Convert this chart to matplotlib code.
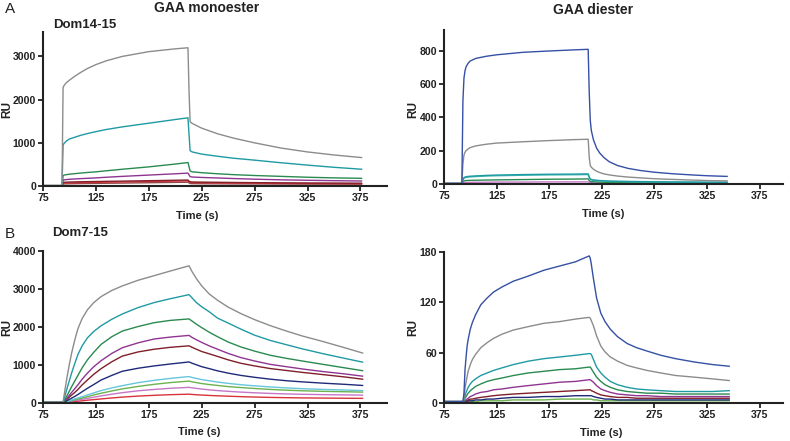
import numpy as np
import matplotlib
matplotlib.use('Agg')
import matplotlib.pyplot as plt

plt.rcParams['font.family'] = ['Liberation Sans', 'DejaVu Sans']
narrow = ['Liberation Sans Narrow', 'Liberation Sans', 'DejaVu Sans']

# ---------------- panel A, monoester (Dom14-15) ----------------
t_a = [75, 93, 94, 95, 97, 100, 105, 110, 117, 125, 135, 150, 175, 200, 212, 213, 214, 216, 225, 240, 255, 275, 300, 325, 350, 376]
a_gray   = [20, 20, 2280, 2330, 2390, 2450, 2540, 2620, 2720, 2810, 2900, 3000, 3110, 3175, 3200, 2200, 1490, 1450, 1340, 1210, 1110, 1000, 880, 790, 720, 660]
a_teal   = [10, 10, 950, 990, 1040, 1090, 1130, 1170, 1215, 1260, 1310, 1370, 1455, 1540, 1580, 1200, 820, 790, 740, 690, 645, 600, 540, 485, 435, 390]
a_green  = [5, 5, 240, 255, 265, 275, 288, 300, 315, 330, 355, 390, 445, 510, 545, 450, 350, 330, 310, 285, 265, 245, 225, 205, 190, 180]
a_purple = [5, 5, 140, 145, 150, 158, 165, 172, 180, 190, 205, 225, 255, 285, 300, 260, 220, 210, 200, 188, 175, 160, 145, 135, 125, 118]
a_maroon = [5, 5, 85, 88, 90, 94, 97, 100, 103, 106, 110, 115, 125, 135, 140, 115, 100, 95, 92, 88, 84, 80, 75, 72, 70, 68]
a_red    = [5, 5, 70, 71, 72, 74, 77, 80, 83, 86, 90, 95, 105, 115, 120, 100, 85, 80, 78, 74, 71, 68, 64, 60, 58, 55]
a_brown  = [5, 5, 50, 51, 52, 54, 56, 58, 60, 62, 66, 70, 78, 86, 90, 75, 60, 57, 55, 53, 51, 50, 48, 46, 45, 44]

# ---------------- panel A, diester ----------------
t_b = [75, 92, 93, 94, 95, 96, 98, 100, 105, 115, 125, 150, 175, 200, 212, 213, 214, 215, 217, 220, 223, 227, 232, 240, 250, 262, 275, 292, 310, 325, 344]
b_blue  = [3, 3, 500, 636, 680, 703, 725, 738, 753, 766, 775, 790, 798, 805, 808, 550, 380, 320, 265, 215, 185, 158, 133, 110, 93, 80, 70, 61, 54, 49, 45]
b_gray  = [3, 3, 120, 174, 190, 200, 210, 218, 228, 238, 245, 253, 260, 266, 268, 160, 110, 100, 88, 76, 68, 60, 54, 47, 41, 36, 31, 27, 23, 20, 18]
b_teal  = [2, 2, 25, 38, 41, 43, 45, 46, 48, 51, 53, 56, 58, 59, 60, 42, 30, 27, 24, 22, 20, 19, 17, 16, 15, 14, 13, 12, 11, 10, 10]
b_cyan  = [2, 2, 22, 34, 37, 39, 41, 42, 44, 47, 49, 52, 54, 55, 56, 39, 27, 24, 21, 19, 18, 17, 15, 14, 13, 12, 11, 10, 10, 9, 9]
b_green = [2, 2, 12, 18, 19, 20, 21, 21, 22, 23, 24, 26, 28, 29, 30, 20, 15, 14, 13, 12, 11, 10, 9, 9, 8, 8, 7, 7, 7, 6, 6]
b_pink  = [2, 2, 6, 8, 8, 9, 9, 9, 10, 10, 11, 11, 12, 12, 12, 9, 7, 7, 6, 6, 6, 5, 5, 5, 5, 5, 5, 5, 5, 5, 5]

# ---------------- panel B, monoester (Dom7-15) ----------------
t_c = [75, 93, 94, 95, 96, 98, 100, 102, 105, 108, 112, 117, 123, 130, 140, 150, 165, 180, 195, 213,
       216, 220, 225, 232, 240, 250, 262, 275, 290, 305, 320, 340, 360, 377]
c_gray   = [20, 20, 20, 200, 380, 720, 1020, 1300, 1650, 1950, 2220, 2450, 2640, 2800, 2960, 3080, 3230, 3350, 3470, 3610,
            3450, 3270, 3080, 2870, 2700, 2520, 2350, 2190, 2030, 1890, 1760, 1610, 1450, 1310]
c_teal   = [18, 18, 15, 100, 200, 400, 590, 780, 1030, 1270, 1500, 1710, 1880, 2030, 2200, 2340, 2510, 2640, 2740, 2850,
            2760, 2640, 2530, 2400, 2230, 2100, 1940, 1780, 1640, 1530, 1420, 1290, 1170, 1070]
c_green  = [16, 16, 10, 50, 100, 200, 310, 420, 570, 720, 920, 1130, 1330, 1540, 1740, 1890, 2010, 2110, 2170, 2210,
            2150, 2070, 1980, 1860, 1740, 1600, 1470, 1360, 1250, 1170, 1100, 1010, 920, 845]
c_purple = [15, 15, 10, 35, 65, 130, 200, 270, 370, 470, 620, 780, 950, 1110, 1300, 1450, 1580, 1680, 1730, 1775,
            1720, 1660, 1590, 1500, 1410, 1300, 1190, 1100, 1010, 950, 890, 820, 760, 700]
c_maroon = [14, 14, 10, 25, 50, 100, 150, 200, 270, 350, 470, 600, 750, 900, 1080, 1230, 1340, 1410, 1460, 1500,
            1460, 1410, 1350, 1290, 1220, 1130, 1040, 970, 900, 850, 800, 740, 680, 620]
c_navy   = [13, 13, 10, 18, 30, 60, 90, 120, 165, 215, 290, 380, 480, 600, 720, 830, 910, 970, 1020, 1075,
            1040, 1000, 950, 900, 840, 780, 720, 670, 620, 580, 550, 515, 485, 455]
c_cyan   = [12, 12, 8, 12, 18, 35, 55, 72, 100, 125, 160, 205, 260, 320, 390, 450, 530, 590, 640, 690,
            665, 640, 610, 580, 545, 510, 475, 445, 415, 390, 370, 350, 335, 320]
c_lgreen = [11, 11, 6, 10, 14, 28, 42, 56, 78, 98, 125, 160, 205, 250, 310, 365, 430, 485, 530, 570,
            550, 530, 505, 480, 455, 425, 400, 375, 350, 330, 315, 300, 290, 280]
c_pink   = [10, 10, 5, 8, 10, 20, 30, 40, 55, 70, 90, 115, 145, 180, 225, 265, 315, 350, 380, 405,
            392, 378, 360, 340, 320, 300, 280, 262, 245, 232, 222, 213, 206, 200]
c_red    = [10, 10, 4, 5, 6, 12, 18, 24, 32, 40, 52, 66, 82, 100, 125, 148, 175, 195, 212, 225,
            218, 210, 202, 192, 182, 172, 160, 150, 140, 133, 127, 122, 118, 115]

# ---------------- panel B, diester ----------------
t_d = [75, 93, 94, 95, 96, 97, 98, 100, 102, 105, 110, 116, 122, 130, 141, 155, 170, 185, 200, 213,
       214, 215, 217, 220, 224, 228, 233, 240, 249, 258, 268, 281, 295, 313, 330, 346]
d_blue   = [2, 2, 12, 40, 55, 68, 76, 88, 96, 105, 117, 125, 132, 138, 145, 151, 158, 163, 168, 175,
            172, 165, 148, 125, 107, 97, 88, 79, 71, 66, 62, 57, 53, 49, 46, 44]
d_gray   = [2, 2, 6, 18, 25, 32, 38, 46, 52, 58, 66, 72, 77, 82, 87, 91, 95, 97, 100, 102,
            101, 98, 92, 80, 68, 61, 55, 50, 45, 42, 39, 36, 33, 31, 29, 27]
d_teal   = [2, 2, 4, 9, 13, 16, 19, 23, 26, 29, 33, 36, 39, 42, 46, 50, 53, 55, 57, 59,
            59, 58, 52, 43, 36, 31, 26, 22, 19, 17, 16, 15, 14, 14, 14, 15]
d_green  = [2, 2, 3, 6, 8, 10, 12, 15, 17, 20, 23, 26, 28, 30, 33, 36, 38, 40, 41, 43,
            43, 41, 37, 31, 26, 22, 19, 16, 14, 13, 12, 12, 11, 11, 11, 11]
d_purple = [2, 2, 2, 3, 4, 5, 6, 8, 9, 11, 13, 14, 16, 17, 19, 21, 23, 25, 26, 28,
            28, 27, 25, 21, 17, 15, 13, 11, 10, 9, 9, 8, 8, 8, 8, 8]
d_maroon = [2, 2, 2, 2, 3, 3, 4, 5, 5, 6, 7, 8, 9, 10, 11, 12, 13, 14, 15, 16,
            16, 15, 14, 12, 10, 9, 8, 7, 7, 6, 6, 6, 6, 6, 6, 6]
d_navy   = [2, 2, 2, 2, 2, 2, 3, 3, 3, 4, 4, 5, 5, 6, 7, 7, 8, 8, 9, 9,
            9, 9, 8, 7, 6, 5, 5, 4, 4, 4, 4, 4, 4, 4, 4, 4]
d_lgreen = [2, 2, 1, 1, 1, 2, 2, 2, 2, 2, 3, 3, 3, 3, 4, 4, 4, 5, 5, 5,
            5, 5, 4, 4, 3, 3, 3, 3, 3, 3, 3, 3, 3, 3, 3, 3]

x_ticks = [75, 125, 175, 225, 275, 325, 375]

col = {
    'gray': '#8c8c8c', 'teal': '#1f9aa3', 'green': '#2a8a50', 'purple': '#8e3592',
    'maroon': '#7e1f2a', 'red': '#d8333a', 'brown': '#8a4a4a', 'blue': '#3550a5',
    'navy': '#1f2a78', 'cyan': '#66c6dc', 'lgreen': '#6cb24e', 'pink': '#c676c6',
    'cyan2': '#3fb7b0',
}

fig = plt.figure(figsize=(7.9, 4.41), dpi=100)

ax1 = fig.add_axes([0.0544, 0.578, 0.4354, 0.349])
ax2 = fig.add_axes([0.562, 0.583, 0.429, 0.349])
ax3 = fig.add_axes([0.0544, 0.0868, 0.4354, 0.344])
ax4 = fig.add_axes([0.562, 0.0855, 0.429, 0.3438])

lw = 1.0
for y, c in [(a_brown, 'brown'), (a_red, 'red'), (a_maroon, 'maroon'), (a_purple, 'purple'),
             (a_green, 'green'), (a_teal, 'teal'), (a_gray, 'gray')]:
    ax1.plot(t_a, y, color=col[c], lw=lw)
for y, c in [(b_pink, 'pink'), (b_green, 'green'), (b_cyan, 'cyan2'), (b_teal, 'teal'),
             (b_gray, 'gray'), (b_blue, 'blue')]:
    ax2.plot(t_b, y, color=col[c], lw=lw)
for y, c in [(c_red, 'red'), (c_pink, 'pink'), (c_lgreen, 'lgreen'), (c_cyan, 'cyan'),
             (c_navy, 'navy'), (c_maroon, 'maroon'), (c_purple, 'purple'), (c_green, 'green'),
             (c_teal, 'teal'), (c_gray, 'gray')]:
    ax3.plot(t_c, y, color=col[c], lw=lw)
for y, c in [(d_lgreen, 'lgreen'), (d_navy, 'navy'), (d_maroon, 'maroon'), (d_purple, 'purple'),
             (d_green, 'green'), (d_teal, 'teal'), (d_gray, 'gray'), (d_blue, 'blue')]:
    ax4.plot(t_d, y, color=col[c], lw=lw)

ax1.set_ylim(0, 3560)
ax1.set_yticks([0, 1000, 2000, 3000])
ax2.set_ylim(0, 924)
ax2.set_yticks([0, 200, 400, 600, 800])
ax3.set_ylim(0, 4000)
ax3.set_yticks([0, 1000, 2000, 3000, 4000])
ax4.set_ylim(0, 180)
ax4.set_yticks([0, 60, 120, 180])

xl_pos = {ax1: 0.448, ax2: 0.469, ax3: 0.453, ax4: 0.463}
for ax in [ax1, ax2, ax3, ax4]:
    ax.set_xlim(75, 400 if ax in (ax1, ax3) else 397)
    ax.set_xticks(x_ticks)
    for s in ['top', 'right']:
        ax.spines[s].set_visible(False)
    for s in ['left', 'bottom']:
        ax.spines[s].set_linewidth(1.5)
        ax.spines[s].set_color('#222222')
    ax.tick_params(direction='out', length=3.5, width=1.3, pad=1.5, colors='#222222')
    for lab in ax.get_xticklabels() + ax.get_yticklabels():
        lab.set_fontweight('bold')
        lab.set_family(narrow)
        lab.set_fontsize(7.6)
    ax.set_xlabel('Time (s)', fontsize=8, fontweight='bold', color='#222222', family=narrow)
    ax.xaxis.set_label_coords(xl_pos[ax], -0.16)

# RU labels as figure text, centred where the reference puts them
ru_x = [0.0086, 0.5235]
ru_y = [0.752, 0.258]
for x in ru_x:
    for y in ru_y:
        fig.text(x, y, 'RU', rotation=90, ha='center', va='center', fontsize=8.5,
                 fontweight='bold', color='#222222')

fig.text(0.262, 0.982, 'GAA monoester', ha='center', va='center', fontsize=10, fontweight='bold', color='#222222')
fig.text(0.751, 0.978, 'GAA diester', ha='center', va='center', fontsize=10, fontweight='bold', color='#222222')
fig.text(0.006, 0.98, 'A', ha='left', va='center', fontsize=11, color='#222222')
fig.text(0.006, 0.47, 'B', ha='left', va='center', fontsize=11, color='#222222')
fig.text(0.067, 0.943, 'Dom14-15', ha='left', va='center', fontsize=9.5, fontweight='bold', color='#222222')
fig.text(0.066, 0.472, 'Dom7-15', ha='left', va='center', fontsize=9.5, fontweight='bold', color='#222222')

fig.savefig('out.png', dpi=100)
